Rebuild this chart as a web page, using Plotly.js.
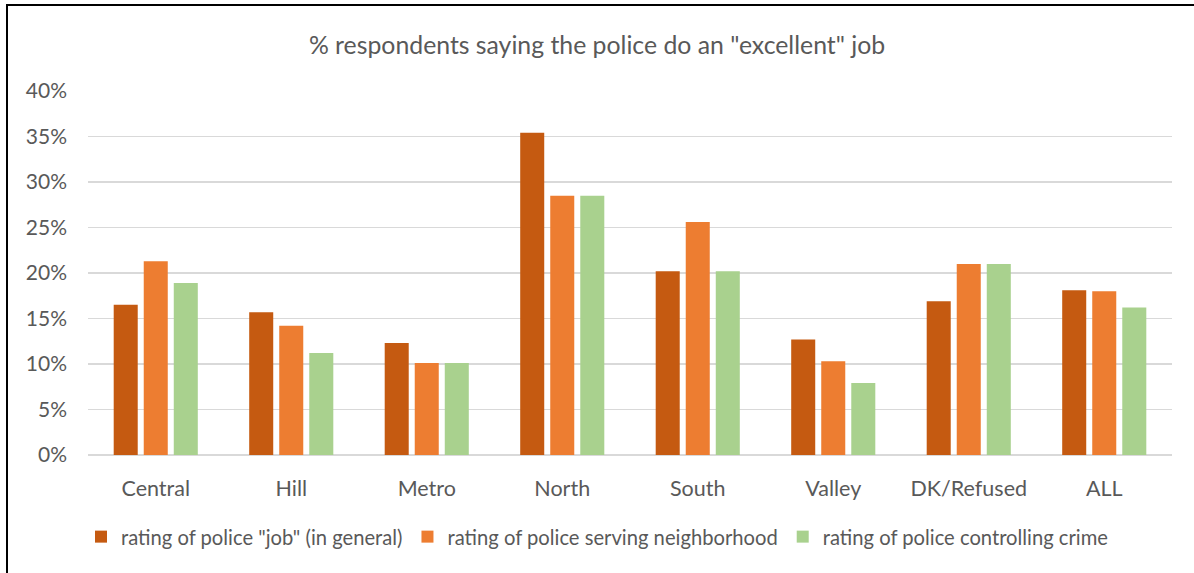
<!DOCTYPE html>
<html>
<head>
<meta charset="utf-8">
<script src="https://cdn.plot.ly/plotly-3.0.1.min.js"></script>
<style>
html,body{margin:0;padding:0;background:#fff;overflow:hidden;}
#chart{width:1194px;height:573px;}
#frame{position:absolute;left:6px;top:4px;width:1300px;height:700px;border-left:2px solid #000;border-top:2px solid #000;pointer-events:none;}
</style>
</head>
<body>
<div id="chart"></div>
<div id="frame"></div>
<script>
const categories = ["Central","Hill","Metro","North","South","Valley","DK/Refused","ALL"];
const seriesNames = ['rating of police "job" (in general)','rating of police serving neighborhood','rating of police controlling crime'];
const jobGeneral = [16.5, 15.7, 12.3, 35.4, 20.2, 12.7, 16.9, 18.1];
const servingNeighborhood = [21.3, 14.2, 10.1, 28.5, 25.6, 10.3, 21.0, 18.0];
const controllingCrime = [18.9, 11.2, 10.1, 28.5, 20.2, 7.9, 21.0, 16.2];
const yTicks = [0,5,10,15,20,25,30,35,40];
const colors = ["#C55A11","#ED7D31","#A9D18E"];

const values = [jobGeneral, servingNeighborhood, controllingCrime];
const traces = values.map((v,i)=>({
  type:'bar', x:categories, y:v, name:seriesNames[i],
  marker:{color:colors[i]}, hoverinfo:'skip'
}));
const font = "Lato, 'Open Sans', sans-serif";
const layout = {
  width:1194, height:573,
  margin:{l:88,r:22,t:91,b:118},
  paper_bgcolor:'#fff', plot_bgcolor:'#fff',
  title:{text:'% respondents saying the police do an "excellent" job',
    font:{family:font,size:24.8,color:'#595959'},
    x:0.5, xanchor:'center', xref:'container', y:1-45/573, yref:'container', yanchor:'middle'},
  barmode:'group', bargap:0.335, bargroupgap:0.2,
  xaxis:{showgrid:false, showline:false, zeroline:false, ticks:'',
    tickfont:{family:font,size:21.5,color:'#595959'}, ticklabelstandoff:18},
  yaxis:{range:[0,40], tickvals:yTicks, ticktext:yTicks.map(t=>t+'%'),
    showgrid:true, gridcolor:'#D9D9D9', gridwidth:1.5, zeroline:true, zerolinecolor:'#D9D9D9', zerolinewidth:1.5,
    showline:false, ticks:'', ticklabelstandoff:20,
    tickfont:{family:font,size:21,color:'#595959'}},
  showlegend:true,
  legend:{orientation:'h', x:0.5, xanchor:'center', xref:'container', y:1-537/573, yref:'container', yanchor:'middle',
    font:{family:font,size:20.2,color:'#595959'}, itemwidth:30, traceorder:'normal'},
};
Plotly.newPlot('chart', traces, layout, {displayModeBar:false, staticPlot:true});
</script>
</body>
</html>
